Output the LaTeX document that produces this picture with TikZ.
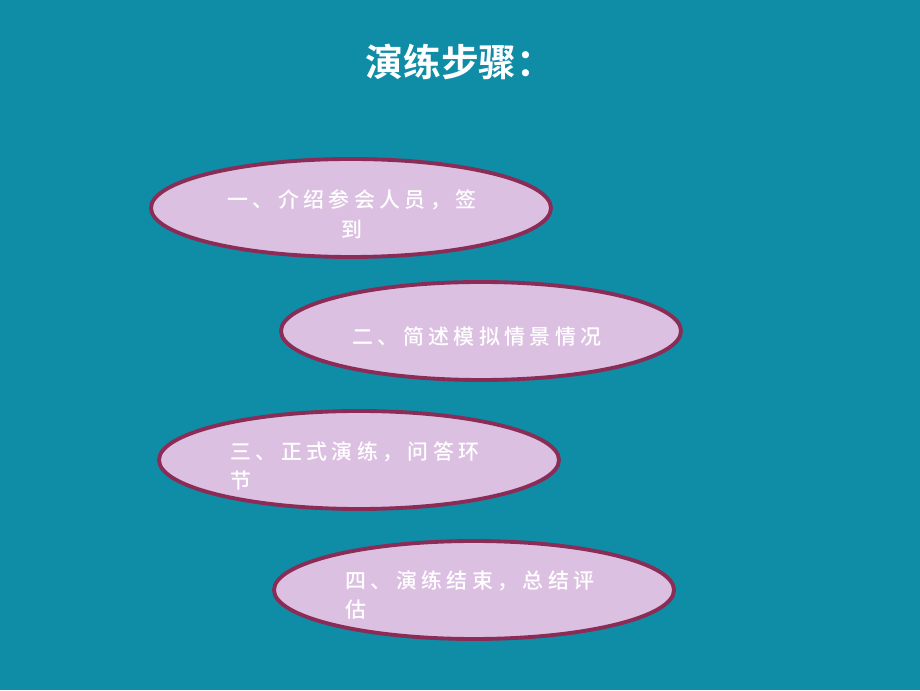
\documentclass[tikz,border=0pt]{standalone}
\usepackage{fontspec}
\newfontfamily\cjk[LetterSpace=21]{Noto Sans CJK SC Medium}
\newfontfamily\cjktitle{Noto Sans CJK SC Bold}
\usepackage{tikz}
\usetikzlibrary{calc,shapes.geometric}
\definecolor{bgteal}{RGB}{15,140,166}
\definecolor{ovalfill}{RGB}{220,192,226}
\definecolor{ovalline}{RGB}{138,44,85}

\begin{document}
\begin{tikzpicture}[
  oval/.style={ellipse, draw=ovalline, fill=ovalfill, line width=2.2pt, minimum width=8cm, minimum height=1.96cm, inner sep=0pt},
  steptext/.style={text=white, font=\cjk\fontsize{11.9}{17}\selectfont, inner sep=0pt}]
\fill [bgteal] (0,0) rectangle (18.4,13.8);
\node [text=white, font=\cjktitle\fontsize{21.5}{24}\selectfont] (title) at (9.2,12.56) {演练步骤：};
\node [oval] (e1) at (7.02,9.64) {};
\node [oval] (e2) at (9.62,7.18) {};
\node [oval] (e3) at (7.18,4.60) {};
\node [oval] (e4) at (9.48,2.00) {};
\node [steptext, align=center] (t1) at ($(e1)+(0.02,-0.12)$) {一、介绍参会人员，签\\到};
\node [steptext] (t2) at ($(e2)+(-0.08,-0.12)$) {二、简述模拟情景情况};
\node [steptext, align=left] (t3) at ($(e3)+(-0.08,-0.12)$) {三、正式演练，问答环\\节};
\node [steptext, align=left] (t4) at ($(e4)+(-0.08,-0.10)$) {四、演练结束，总结评\\估};
\end{tikzpicture}
\end{document}
